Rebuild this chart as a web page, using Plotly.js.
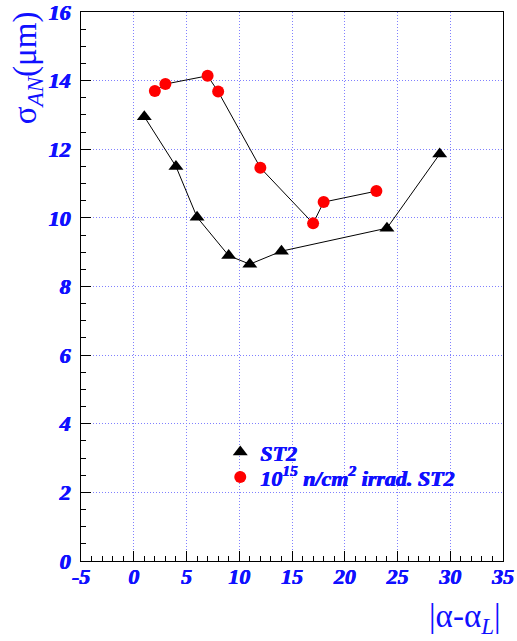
<!DOCTYPE html>
<html>
<head>
<meta charset="utf-8">
<script src="https://cdn.plot.ly/plotly-3.0.1.min.js"></script>
<style>html,body{margin:0;padding:0;background:#fff;}#plot{width:517px;height:641px;}</style>
</head>
<body>
<div id="plot"></div>
<script>
// Series: ST2 (black triangles)
var st2X = [1, 4, 6, 9, 11, 14, 24, 29];
var st2Y = [12.95, 11.5, 10.02, 8.9, 8.65, 9.03, 9.7, 11.86];
// Series: 10^15 n/cm^2 irradiated ST2 (red circles)
var irrX = [2, 3, 7, 8, 12, 17, 18, 23];
var irrY = [13.7, 13.9, 14.14, 13.68, 11.46, 9.84, 10.46, 10.78];
var names = ["ST2", "10<sup>15</sup> n/cm<sup>2</sup> irrad. ST2"];
var xTicks = [-5, 0, 5, 10, 15, 20, 25, 30, 35];
var yTicks = [0, 2, 4, 6, 8, 10, 12, 14, 16];

var blue = "#1010ff";
var heavy = "0.6px 0 0 " + blue + ", -0.3px 0 0 " + blue;
var tickFont = {family: "Liberation Serif", size: 22, color: blue, weight: "bold", style: "italic", shadow: heavy};
var legFont = {family: "Liberation Serif", size: 22, color: blue, weight: "bold", style: "italic", shadow: heavy};
function bi(s) { return "<b><i>" + s + "</i></b>"; }

var traces = [
  {x: st2X, y: st2Y, mode: "lines", line: {color: "#000", width: 1}, showlegend: false, hoverinfo: "skip"},
  {x: irrX, y: irrY, mode: "lines", line: {color: "#000", width: 1}, showlegend: false, hoverinfo: "skip"},
  {x: st2X, y: st2Y, mode: "markers", name: bi(names[0]), legend: "legend",
   marker: {symbol: "triangle-up", size: 13, color: "#000"}},
  {x: irrX, y: irrY, mode: "markers", name: bi(names[1]), legend: "legend2",
   marker: {symbol: "circle", size: 12, color: "#ff0000"}}
];

var layout = {
  width: 517, height: 641,
  margin: {l: 81, r: 14, t: 12, b: 80},
  paper_bgcolor: "#fff", plot_bgcolor: "#fff",
  showlegend: true,
  legend: {x: 0.33, y: 0.198, xanchor: "left", yanchor: "middle", bgcolor: "rgba(0,0,0,0)",
    font: legFont, itemwidth: 30},
  legend2: {x: 0.33, y: 0.1527, xanchor: "left", yanchor: "middle", bgcolor: "rgba(0,0,0,0)",
    font: legFont, itemwidth: 30},
  xaxis: {range: [-5, 35], tickvals: xTicks, ticktext: xTicks.map(function(v){return bi(String(v));}), tickfont: tickFont,
    ticklabeloverflow: "allow", ticklabelstandoff: -4,
    showline: true, linecolor: "#000", linewidth: 1, mirror: true,
    ticks: "inside", ticklen: 10, tickcolor: "#000",
    minor: {dtick: 1, ticks: "inside", ticklen: 5, tickcolor: "#000", showgrid: false},
    showgrid: true, gridcolor: "#8080ff", griddash: "1px,2px", gridwidth: 1, zeroline: false},
  yaxis: {range: [0, 16], tickvals: yTicks, ticktext: yTicks.map(function(v){return bi(String(v));}), tickfont: tickFont,
    ticklabeloverflow: "allow", ticklabelstandoff: 5,
    showline: true, linecolor: "#000", linewidth: 1, mirror: true,
    ticks: "inside", ticklen: 10, tickcolor: "#000",
    minor: {dtick: 0.5, ticks: "inside", ticklen: 5, tickcolor: "#000", showgrid: false},
    showgrid: true, gridcolor: "#8080ff", griddash: "1px,2px", gridwidth: 1, zeroline: false},
  annotations: [
    {text: "σ<sub><i>AN</i></sub>(μm)", xref: "paper", yref: "paper", x: -0.125, y: 0.898,
     textangle: -90, showarrow: false, xanchor: "center", yanchor: "middle",
     font: {family: "Liberation Serif", size: 33, color: blue}},
    {text: "|α-α<sub><i>L</i></sub>|", xref: "paper", yref: "paper", x: 1.0, y: -0.104,
     showarrow: false, xanchor: "right", yanchor: "middle",
     font: {family: "Liberation Serif", size: 33, color: blue}}
  ]
};

Plotly.newPlot("plot", traces, layout, {staticPlot: true, displayModeBar: false});
</script>
</body>
</html>
